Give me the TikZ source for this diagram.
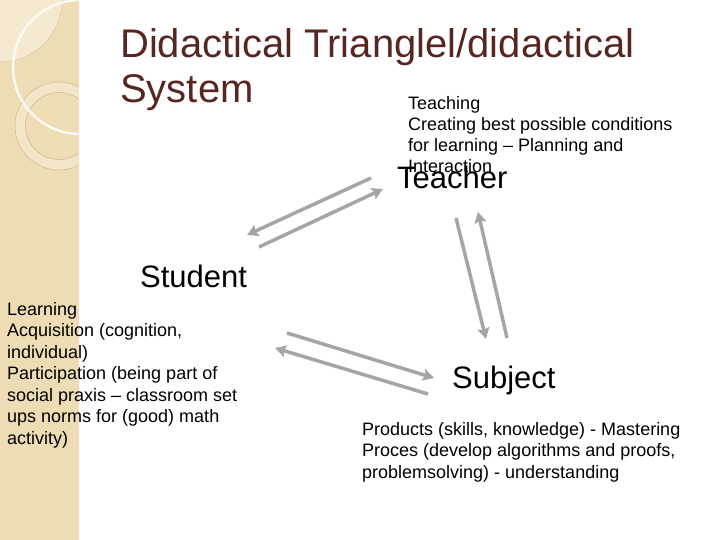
\documentclass[tikz,border=0pt]{standalone}
\usepackage{fontspec}
\setmainfont{Liberation Sans}
\usepackage{tikz}
\usetikzlibrary{arrows.meta,positioning}
\definecolor{titlebrown}{RGB}{88,38,32}
\definecolor{stripbeige}{RGB}{238,221,180}
\definecolor{striplight}{RGB}{245,233,208}
\definecolor{stripline}{RGB}{212,188,140}
\definecolor{arrowgray}{RGB}{165,165,165}

\begin{document}
\begin{tikzpicture}[
x=1pt, y=-1pt,
heading/.style={
		anchor=base west,
		inner sep=0pt,
		font=\fontsize{31}{36}\selectfont,
		},
notes/.style={
		anchor=base west, % base is the last line here
		inner sep=0pt,
		align=left,
		font=\fontsize{18}{21.5}\selectfont,
		},
link/.style={
		draw=arrowgray,
		line width=3.5pt,
		-{Stealth[length=11pt,width=12pt,inset=2pt]},
		}
]

\def \stripw {79}
\def \ringx {59}
\def \ringy {126}

\useasboundingbox (0,0) rectangle (720,540);

% left strip
\fill[stripbeige] (0,0) rectangle (\stripw,540);
\begin{scope}
  \clip (0,0) rectangle (\stripw,540);
  \fill[striplight, draw=stripline!60!striplight, line width=0.6pt] (0,0) circle (62);
  \fill[striplight!70!stripbeige, even odd rule]
    (\ringx,\ringy) circle (44) (\ringx,\ringy) circle (33.5);
  \foreach \r in {44,33.5}
    \draw[stripline, line width=0.6pt] (\ringx,\ringy) circle (\r);
  \draw[white!75!striplight, line width=2.5pt] (80,67) circle (67);
\end{scope}

% title
\node[anchor=base west, inner sep=0pt, align=left, text=titlebrown,
  font=\fontsize{40}{45}\selectfont] (title) at (120,103)
  {Didactical Trianglel/didactical\\System};

% corners of the triangle
\node[heading] (teacher) at (397,189) {Teacher};
\node[heading] (student) at (140,287) {Student};
\node[heading] (subject) at (452,388) {Subject};

\node[notes, font=\fontsize{18}{21}\selectfont] (teaching) at (408,173)
  {Teaching\\Creating best possible conditions\\for learning – Planning and\\Interaction};
\node[notes] (learning) at (7,444)
  {Learning\\Acquisition (cognition,\\individual)\\Participation (being part of\\social praxis – classroom set\\ups norms for (good) math\\activity)};
\node[notes] (products) at (362,478)
  {Products (skills, knowledge) - Mastering\\Proces (develop algorithms and proofs,\\problemsolving) - understanding};

% arrow ends
\coordinate (ts a) at (371,178);
\coordinate (ts b) at (247,235);
\coordinate (st a) at (259,247);
\coordinate (st b) at (383,189);
\coordinate (tj a) at (456,218);
\coordinate (tj b) at (486,339);
\coordinate (jt a) at (507,338);
\coordinate (jt b) at (478,212);
\coordinate (sj a) at (287,333);
\coordinate (sj b) at (434,378);
\coordinate (js a) at (428,394);
\coordinate (js b) at (275,348);

\foreach \e in {ts,st,tj,jt,sj,js}
  \draw[link] (\e\space a) -- (\e\space b);

\end{tikzpicture}
\end{document}
